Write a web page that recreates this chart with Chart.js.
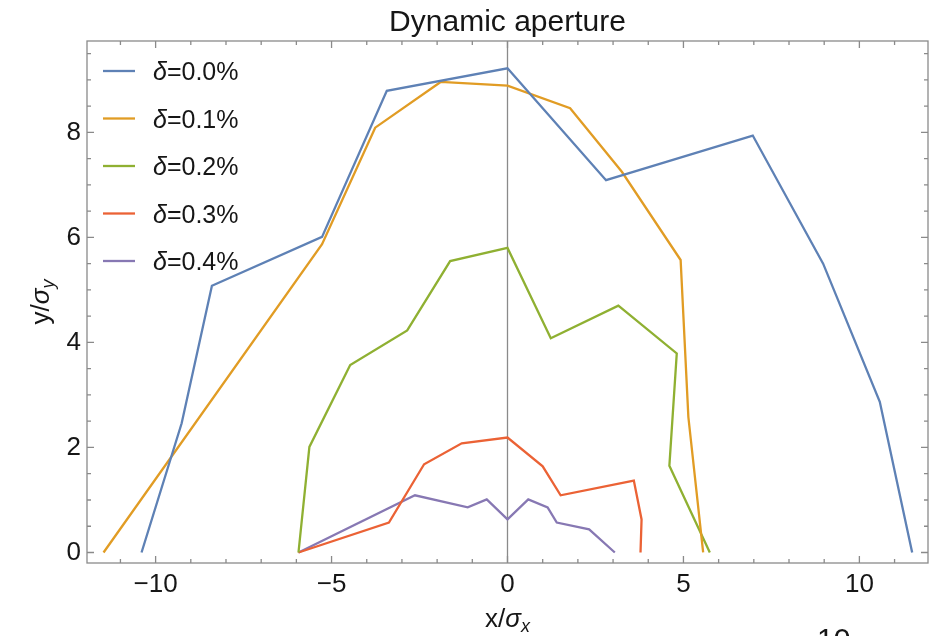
<!DOCTYPE html>
<html>
<head>
<meta charset="utf-8">
<title>Dynamic aperture</title>
<script src="https://cdn.jsdelivr.net/npm/chart.js@4.4.1/dist/chart.umd.min.js"></script>
<style>
  html, body { margin: 0; padding: 0; background: #fff; }
  canvas { display: block; }
</style>
</head>
<body>
<canvas id="daChart" width="930" height="636"></canvas>
<script>
// tracking results: amplitude boundary in units of beam sigma
const deltaLabels = ['0.0%', '0.1%', '0.2%', '0.3%', '0.4%'];
const lineColors = ['#5e81b5', '#e19c24', '#8fb032', '#eb6235', '#8778b3'];

const xDelta0 = [-10.40, -9.26, -8.40, -5.27, -3.43, 0.00, 2.80, 6.97, 8.97, 10.58, 11.50];
const yDelta0 = [0.00, 2.46, 5.08, 6.01, 8.79, 9.22, 7.09, 7.94, 5.50, 2.87, 0.00];

const xDelta1 = [-11.48, -5.27, -3.76, -1.90, 0.00, 1.78, 3.25, 4.92, 5.14, 5.56];
const yDelta1 = [0.00, 5.87, 8.09, 8.96, 8.89, 8.46, 7.25, 5.57, 2.58, 0.00];

const xDelta2 = [-5.94, -5.63, -4.47, -2.85, -1.63, 0.00, 1.23, 3.15, 4.81, 4.60, 5.75];
const yDelta2 = [0.00, 2.01, 3.57, 4.23, 5.55, 5.80, 4.08, 4.70, 3.79, 1.65, 0.00];

const xDelta3 = [-5.94, -3.37, -2.37, -1.30, 0.00, 1.00, 1.51, 3.59, 3.81, 3.78];
const yDelta3 = [0.00, 0.57, 1.68, 2.08, 2.19, 1.64, 1.09, 1.37, 0.63, 0.00];

const xDelta4 = [-5.94, -2.63, -1.13, -0.59, 0.00, 0.59, 1.14, 1.40, 2.32, 3.05];
const yDelta4 = [0.00, 1.09, 0.86, 1.01, 0.63, 1.01, 0.86, 0.57, 0.44, 0.00];

const xTicks = [-10, -5, 0, 5, 10];
const yTicks = [0, 2, 4, 6, 8];

const FONT = "'Liberation Sans', Arial, sans-serif";
const FRAME = '#8a8a8a';
const INK = '#161616';

const seriesX = [xDelta0, xDelta1, xDelta2, xDelta3, xDelta4];
const seriesY = [yDelta0, yDelta1, yDelta2, yDelta3, yDelta4];

const datasets = deltaLabels.map((lab, i) => ({
    label: lab,
    data: seriesX[i].map((x, j) => ({ x: x, y: seriesY[i][j] })),
    borderColor: lineColors[i],
    backgroundColor: lineColors[i],
    borderWidth: 2.3,
    showLine: true,
    pointRadius: 0,
    tension: 0
}));

// draws text pieces one after another: [text, italic, sizeScale, yShift]
function drawRuns(ctx, runs, x, y, size, align) {
    let total = 0;
    runs.forEach(r => {
        ctx.font = (r[1] ? 'italic ' : '') + Math.round(size * (r[2] || 1)) + 'px ' + FONT;
        total += ctx.measureText(r[0]).width;
    });
    let cx = align === 'center' ? x - total / 2 : x;
    ctx.textAlign = 'left';
    runs.forEach(r => {
        ctx.font = (r[1] ? 'italic ' : '') + Math.round(size * (r[2] || 1)) + 'px ' + FONT;
        ctx.fillText(r[0], cx, y + (r[3] || 0));
        cx += ctx.measureText(r[0]).width;
    });
}

// frame with inward ticks on all four sides, plus the x = 0 axis line
const framePlugin = {
    id: 'mmaFrame',
    beforeDatasetsDraw(chart) {
        const { ctx, chartArea: a, scales } = chart;
        const xs = scales.x, ys = scales.y;
        ctx.save();
        ctx.strokeStyle = FRAME;
        ctx.lineWidth = 1.3;

        // axis line at x = 0
        const x0 = xs.getPixelForValue(0);
        ctx.beginPath();
        ctx.moveTo(x0, a.top);
        ctx.lineTo(x0, a.bottom);
        ctx.stroke();

        ctx.strokeRect(a.left, a.top, a.right - a.left, a.bottom - a.top);

        ctx.beginPath();
        for (let v = Math.ceil(xs.min); v <= xs.max; v++) {
            const px = xs.getPixelForValue(v);
            const len = v % 5 === 0 ? 7 : 4;
            ctx.moveTo(px, a.bottom); ctx.lineTo(px, a.bottom - len);
            ctx.moveTo(px, a.top); ctx.lineTo(px, a.top + len);
        }
        for (let v = 0; v <= ys.max; v += 0.5) {
            const py = ys.getPixelForValue(v);
            const len = v % 2 === 0 ? 7 : 4;
            ctx.moveTo(a.left, py); ctx.lineTo(a.left + len, py);
            ctx.moveTo(a.right, py); ctx.lineTo(a.right - len, py);
        }
        ctx.stroke();
        ctx.restore();
    },
    afterDraw(chart) {
        const { ctx, chartArea: a } = chart;
        ctx.save();
        ctx.fillStyle = INK;
        ctx.textBaseline = 'alphabetic';

        // legend inside the plot
        chart.data.datasets.forEach((ds, i) => {
            const ry = 71 + i * 47.5;
            ctx.strokeStyle = ds.borderColor;
            ctx.lineWidth = 2.3;
            ctx.beginPath();
            ctx.moveTo(103, ry);
            ctx.lineTo(135, ry);
            ctx.stroke();
            drawRuns(ctx, [['δ', true], ['=' + ds.label, false]], 153, ry + 9, 25, 'left');
        });

        // axis titles
        drawRuns(ctx, [['x/', false], ['σ', true], ['x', true, 0.7, 5]],
            (a.left + a.right) / 2, 627, 26, 'center');

        ctx.save();
        ctx.translate(49, (a.top + a.bottom) / 2);
        ctx.rotate(-Math.PI / 2);
        drawRuns(ctx, [['y/', false], ['σ', true], ['y', true, 0.7, 5]], 0, 0, 26, 'center');
        ctx.restore();

        // page number peeking in at the bottom edge
        ctx.font = '30px ' + FONT;
        ctx.textBaseline = 'top';
        ctx.fillText('10', 817, 626);
        ctx.restore();
    }
};

Chart.defaults.font.family = FONT;
Chart.defaults.color = INK;

new Chart(document.getElementById('daChart'), {
    type: 'scatter',
    data: { datasets: datasets },
    options: {
        responsive: false,
        animation: false,
        layout: { padding: { left: 0, right: 2, top: 0, bottom: 0 } },
        plugins: {
            legend: { display: false },
            tooltip: { enabled: false },
            title: {
                display: true,
                fullSize: false,
                text: 'Dynamic aperture',
                color: INK,
                font: { size: 30, weight: 'normal' },
                padding: { top: 5, bottom: 0 }
            }
        },
        scales: {
            x: {
                type: 'linear',
                min: -11.95,
                max: 11.95,
                grid: { display: false, drawTicks: false },
                border: { display: false },
                afterBuildTicks: s => { s.ticks = xTicks.map(v => ({ value: v })); },
                afterFit: s => { s.height = 73; },
                ticks: {
                    padding: 6,
                    maxRotation: 0,
                    font: { size: 26 },
                    callback: v => String(v).replace('-', '\u2212')
                }
            },
            y: {
                type: 'linear',
                min: -0.2,
                max: 9.74,
                grid: { display: false, drawTicks: false },
                border: { display: false },
                afterBuildTicks: s => { s.ticks = yTicks.map(v => ({ value: v })); },
                afterFit: s => { s.width = 87; },
                ticks: {
                    padding: 6,
                    font: { size: 26 }
                }
            }
        }
    },
    plugins: [framePlugin]
});
</script>
</body>
</html>
